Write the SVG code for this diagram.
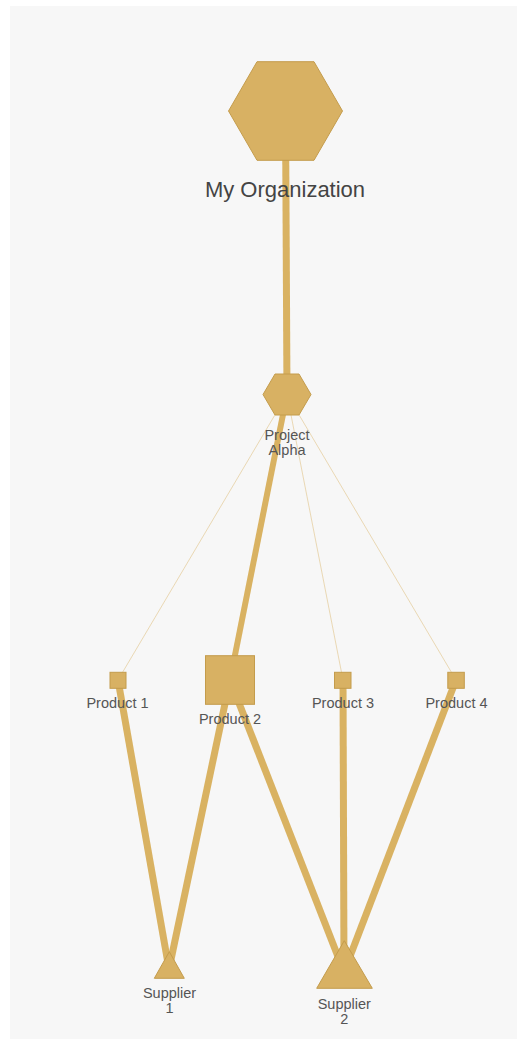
<svg xmlns="http://www.w3.org/2000/svg" width="517" height="1040" viewBox="0 0 517 1040">
<style>
.node{fill:#d8b163;stroke:#c49c4c;stroke-width:1;}
.e{stroke:#d9b262;stroke-linecap:butt;fill:none;}
.thick{stroke-width:7;}
.thin{stroke-width:1;opacity:0.45;}
.lbl{font-family:"Liberation Sans",Arial,sans-serif;font-size:14.5px;fill:#555;text-anchor:middle;}
.big{font-family:"Liberation Sans",Arial,sans-serif;font-size:22px;fill:#444;text-anchor:middle;}
</style>
<rect x="10" y="6" width="507" height="1033" fill="#f7f7f7"/>
<g id="connectors">
<line class="e thick" x1="285.5" y1="111" x2="287" y2="394.5"/>
<line class="e thin" x1="287" y1="394.5" x2="118" y2="680"/>
<line class="e thick" x1="287" y1="394.5" x2="230" y2="680" style="stroke-width:6"/>
<line class="e thin" x1="287" y1="394.5" x2="343" y2="680"/>
<line class="e thin" x1="287" y1="394.5" x2="456" y2="680"/>
<line class="e thick" x1="118" y1="680" x2="169" y2="969"/>
<line class="e thick" x1="230" y1="680" x2="169" y2="969"/>
<line class="e thick" x1="230" y1="680" x2="344" y2="972"/>
<line class="e thick" x1="343" y1="680" x2="344" y2="972"/>
<line class="e thick" x1="456" y1="680" x2="344" y2="972"/>
</g>
<g id="org">
<polygon class="node" points="228.5,111 257,61.7 314,61.7 342.5,111 314,160.3 257,160.3"/>
<text class="big" x="285" y="197">My Organization</text>
</g>
<g id="project-alpha">
<polygon class="node" points="263,394.5 275,374 299,374 311,394.5 299,415 275,415"/>
<text class="lbl" x="287" y="440">Project</text>
<text class="lbl" x="287" y="455">Alpha</text>
</g>
<g id="product-1">
<rect class="node" x="110" y="672.3" width="16" height="16"/>
<text class="lbl" x="117.5" y="708">Product 1</text>
</g>
<g id="product-2">
<rect class="node" x="205.5" y="655.7" width="49" height="48.6"/>
<text class="lbl" x="230" y="724">Product 2</text>
</g>
<g id="product-3">
<rect class="node" x="334.5" y="672.3" width="16.5" height="16"/>
<text class="lbl" x="343" y="707.5">Product 3</text>
</g>
<g id="product-4">
<rect class="node" x="447.8" y="672.3" width="16.5" height="16"/>
<text class="lbl" x="456.5" y="707.5">Product 4</text>
</g>
<g id="supplier-1">
<polygon class="node" points="169.3,951.7 184.3,978.3 154.3,978.3"/>
<text class="lbl" x="169.5" y="997.5">Supplier</text>
<text class="lbl" x="169.5" y="1012.5">1</text>
</g>
<g id="supplier-2">
<polygon class="node" points="344.3,940.7 372.3,988.3 316.7,988.3"/>
<text class="lbl" x="344.3" y="1009.3">Supplier</text>
<text class="lbl" x="344.3" y="1024.3">2</text>
</g>
</svg>
